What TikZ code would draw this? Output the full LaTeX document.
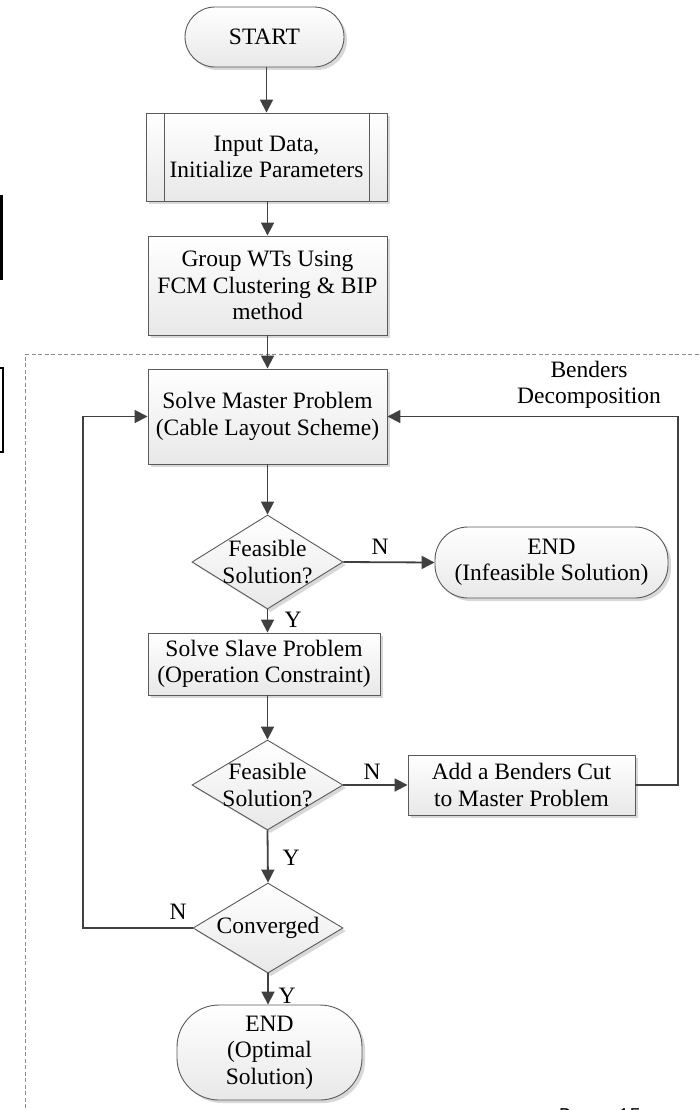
\documentclass[tikz,border=0pt]{standalone}
\usepackage{fontspec}
\setmainfont{Liberation Serif}
\setmonofont{Liberation Mono}
\usetikzlibrary{arrows.meta,shapes.geometric,shadows}
\definecolor{linec}{HTML}{404040}
\definecolor{borderc}{HTML}{5A5A5A}
\tikzset{
  txt/.style={font=\fontsize{23.5}{26.5}\selectfont, align=center, inner sep=0pt},
  boxbase/.style={draw=borderc, line width=0.9pt, top color=white, bottom color=black!9,
    drop shadow={shadow xshift=3pt, shadow yshift=-3pt, fill=black!30, opacity=0.5},
    txt},
  procbox/.style={boxbase, rectangle},
  termbox/.style={boxbase, rectangle},
  diabox/.style={boxbase, diamond, inner sep=0pt},
  conn/.style={draw=linec, line width=1.8pt},
  arr/.style={conn, -{Triangle[length=13pt,width=13pt]}},
  lbl/.style={txt}
}
\begin{document}
\begin{tikzpicture}[x=1pt,y=-1pt]
\useasboundingbox (0,0) rectangle (700,1110);

% page artefacts at the left edge
\draw[black, line width=3pt] (1.5,195) -- (1.5,280);
\draw[black, line width=2.5pt] (-3,368) -- (3,368) -- (3,452) -- (-3,452);

% dashed frame
\draw[draw=black!45, line width=0.9pt, dash pattern=on 4pt off 2.5pt] (705,354) -- (25,354) -- (25,1125);

% nodes
\node[termbox, rounded corners=30pt, minimum width=159pt, minimum height=60pt] (start) at (264.5,37) {START};
\node[procbox, minimum width=241pt, minimum height=88pt] (input) at (266.5,157) {Input Data,\\Initialize Parameters};
\draw[draw=borderc, line width=0.9pt] ([xshift=19pt]input.north west) -- ([xshift=19pt]input.south west);
\draw[draw=borderc, line width=0.9pt] ([xshift=-18pt]input.north east) -- ([xshift=-18pt]input.south east);
\node[procbox, minimum width=239pt, minimum height=99pt] (group) at (267.5,285.5) {Group WTs Using\\FCM Clustering \& BIP\\method};
\node[procbox, minimum width=239pt, minimum height=95pt] (master) at (267.5,416.5) {Solve Master Problem\\(Cable Layout Scheme)};
\node[diabox, minimum width=151pt, minimum height=94pt] (d1) at (267.5,562) {};
\node[txt] at (d1.center) {Feasible\\Solution?};
\node[termbox, rounded corners=33pt, minimum width=233pt, minimum height=71pt] (endinf) at (551.5,562.5) {END\\(Infeasible Solution)};
\node[procbox, minimum width=232pt, minimum height=62pt] (slave) at (264,664) {Solve Slave Problem\\(Operation Constraint)};
\node[diabox, minimum width=151pt, minimum height=90pt] (d2) at (267.5,785) {};
\node[txt] at (d2.center) {Feasible\\Solution?};
\node[procbox, minimum width=227pt, minimum height=60pt] (add) at (521.5,785) {Add a Benders Cut\\to Master Problem};
\node[diabox, minimum width=150pt, minimum height=90pt] (d3) at (268,928) {};
\node[txt] at (d3.center) {Converged};
\node[termbox, rounded corners=42pt, minimum width=185pt, minimum height=95pt] (endopt) at (269.5,1052.5) {END\\(Optimal\\Solution)};

\node[txt] (benders) at (589,385) {Benders\\Decomposition};

% connectors
\draw[arr] (start.south -| input.north) -- (input.north);
\draw[arr] (input.south -| group.north) -- (group.north);
\draw[arr] (group.south) -- (master.north);
\draw[arr] (master.south) -- (d1.north);
\draw[arr] (d1.east) -- (endinf.west);
\draw[arr] (d1.south) -- (d1.south |- slave.north);
\draw[arr] (d1.south |- slave.south) -- (d2.north);
\draw[arr] (d2.east) -- (add.west);
\coordinate (rt) at (678,785);
\draw[arr] (add.east) -- (rt) |- (master.east);
\draw[arr] (d2.south) -- (d3.north);
\coordinate (lt) at (83,928);
\draw[arr] (d3.west) -- (lt) |- (master.west);
\draw[arr] (d3.south) -- (d3.south |- endopt.north);

% labels
\node[lbl] (n1) at (380,547) {N};
\node[lbl] (y1) at (293,620) {Y};
\node[lbl] (n2) at (372,772) {N};
\node[lbl] (y2) at (291,858) {Y};
\node[lbl] (n3) at (178,912) {N};
\node[lbl] (y3) at (287,996) {Y};

% page number, cut off at the bottom edge
\node[anchor=base west, inner sep=0pt, font=\ttfamily\fontsize{19.5}{20}\selectfont] (page) at (559,1121) {Page 15};
\end{tikzpicture}
\end{document}
